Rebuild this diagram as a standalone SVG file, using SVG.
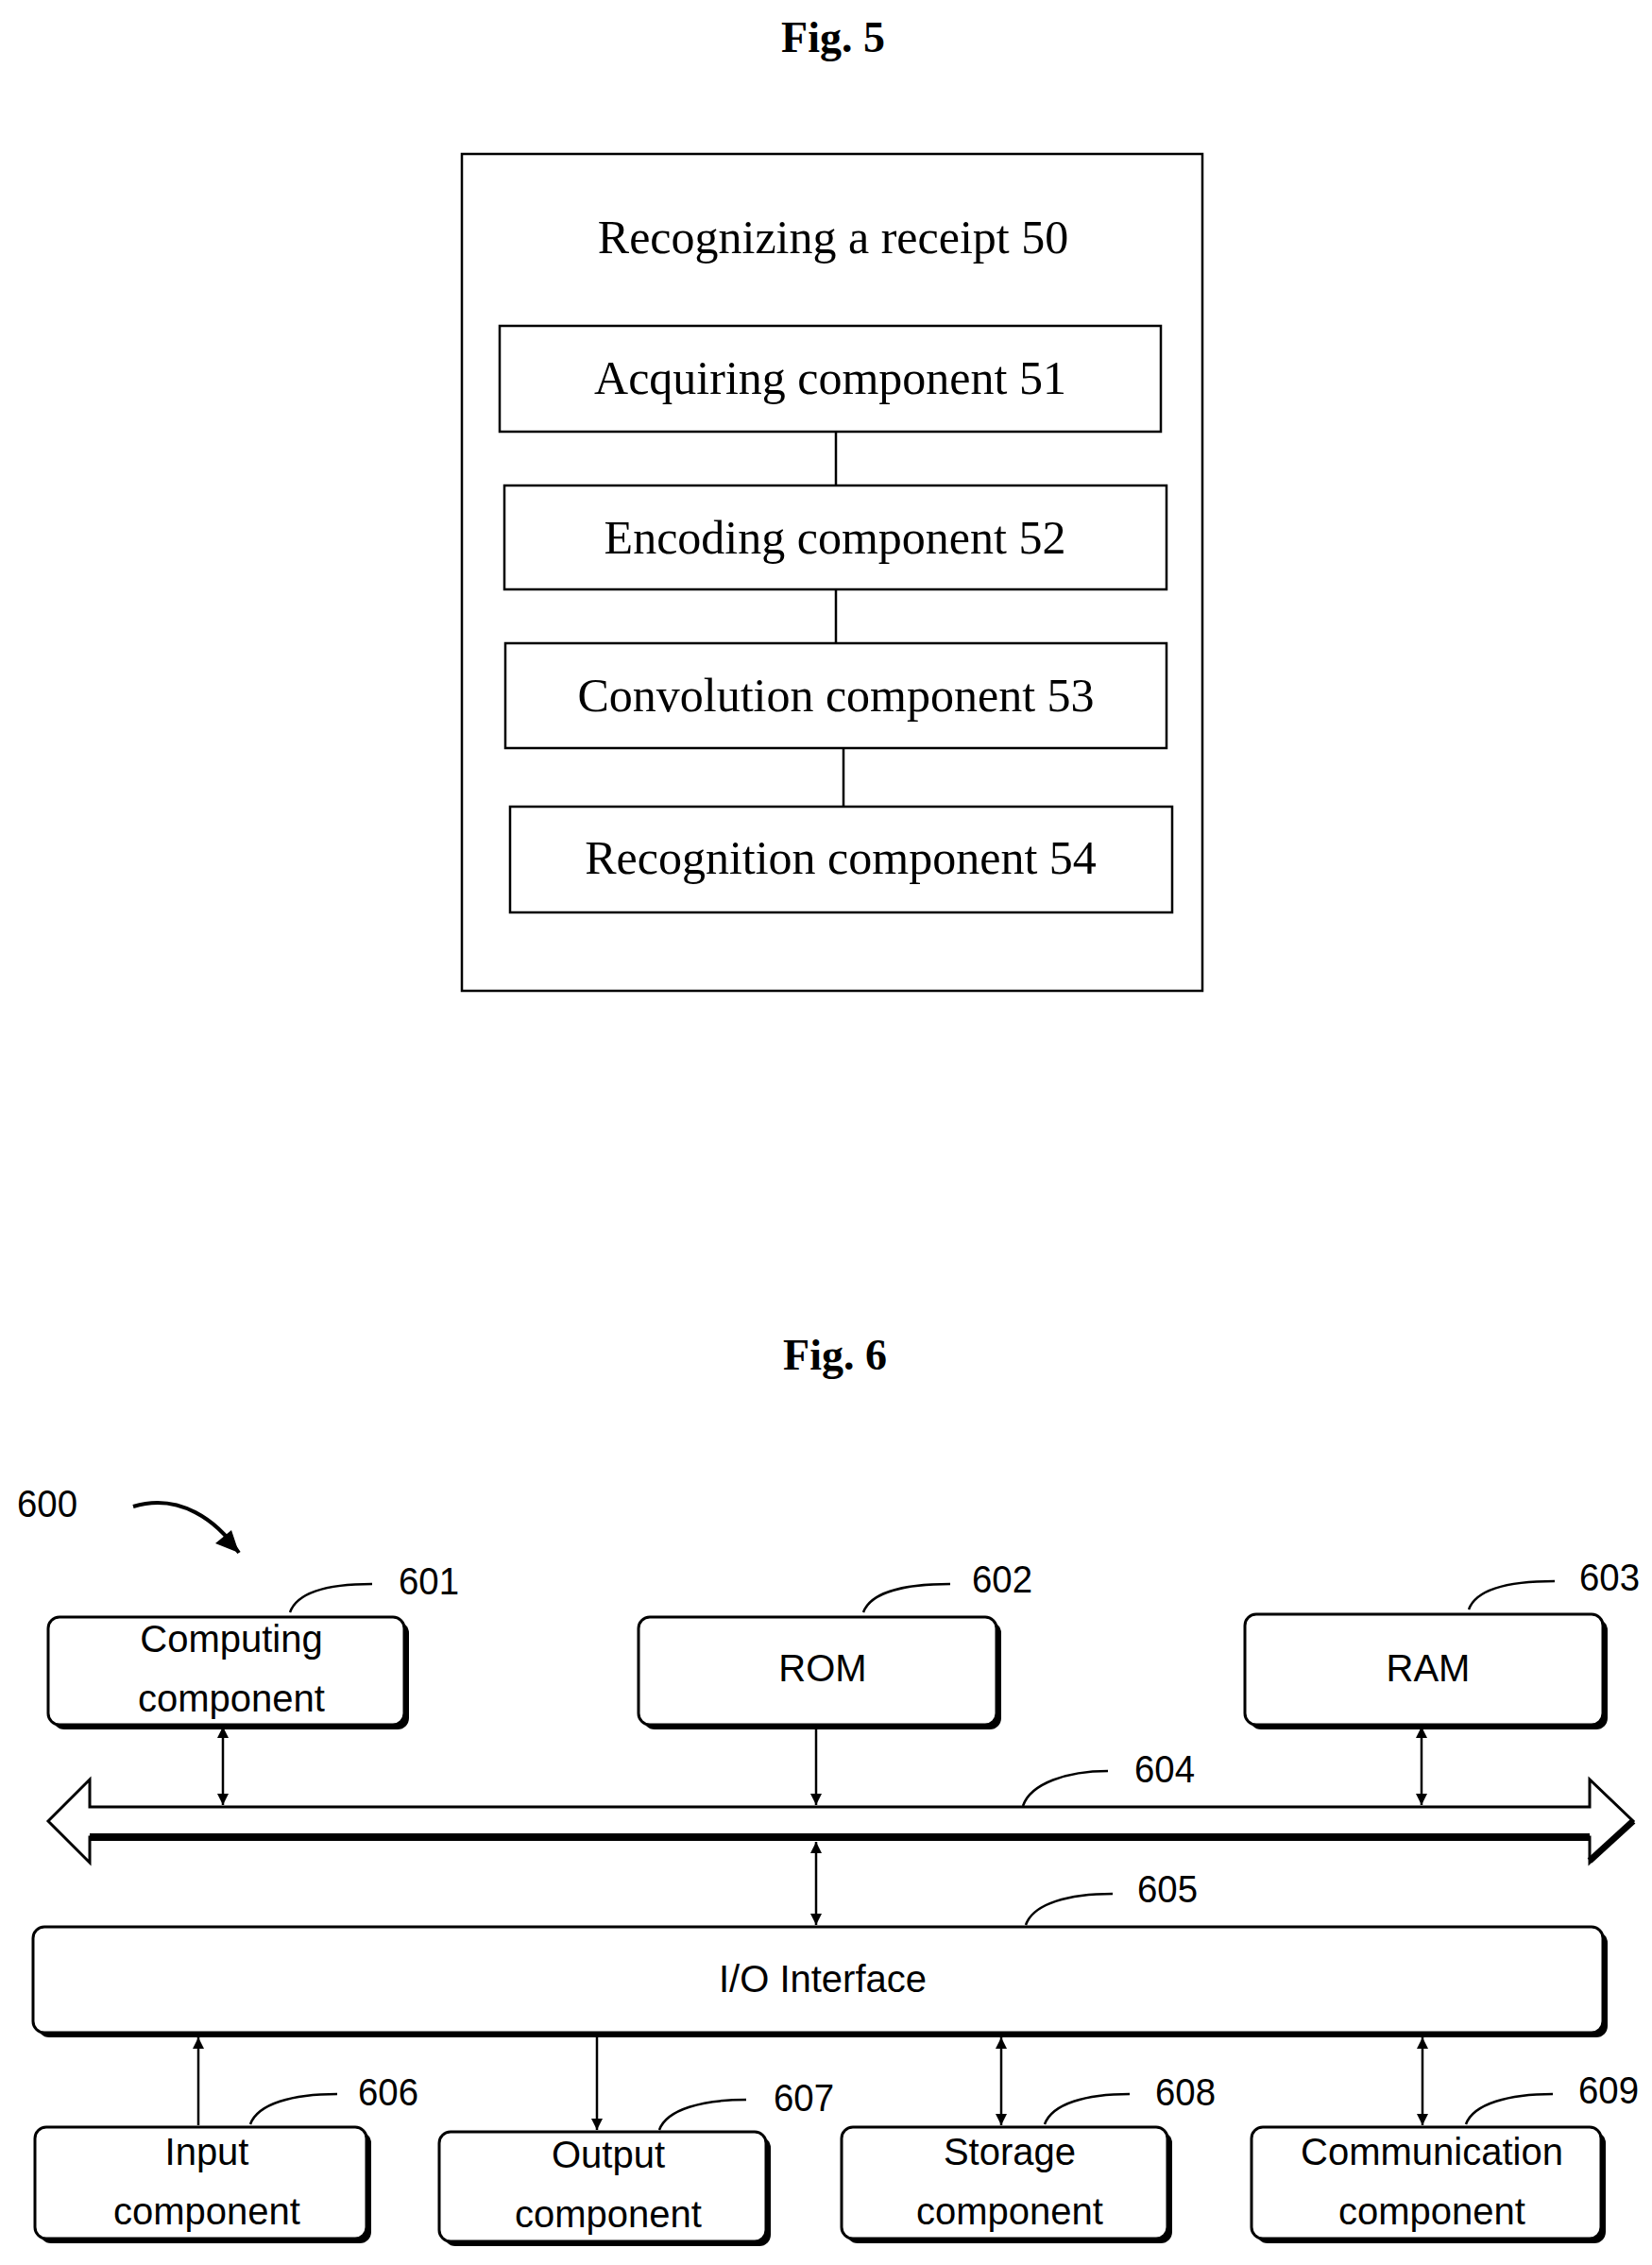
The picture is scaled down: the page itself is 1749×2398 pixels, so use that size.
<svg xmlns="http://www.w3.org/2000/svg" width="1749" height="2398" viewBox="0 0 1749 2398">
<defs>
<style>
.serif{font-family:"Liberation Serif","Times New Roman",serif;fill:#000}
.sans{font-family:"Liberation Sans",Arial,sans-serif;fill:#000;font-size:40px}
.box{fill:#fff;stroke:#000;stroke-width:2.5}
.rb{fill:#fff;stroke:#000;stroke-width:3}
.sh{fill:#000}
.ln{fill:none;stroke:#000;stroke-width:2.5}
.lead{fill:none;stroke:#000;stroke-width:2.5}
</style>
<marker id="ah" viewBox="0 0 10 10" refX="10" refY="5" markerWidth="12" markerHeight="12" markerUnits="userSpaceOnUse" orient="auto-start-reverse"><path d="M0,0 L10,5 L0,10 z" fill="#000"/></marker>
</defs>
<rect width="1749" height="2398" fill="#fff"/>

<text class="serif" x="882" y="55" font-size="46" font-weight="bold" text-anchor="middle">Fig. 5</text>
<g id="fig5-container"><rect class="box" x="489" y="163" width="784" height="886" stroke-width="2"/>
<text class="serif" x="882" y="268" font-size="50" text-anchor="middle">Recognizing a receipt 50</text></g>
<g id="n51"><rect class="box" x="529" y="345" width="700" height="112"/><text class="serif" x="879" y="417" font-size="50" text-anchor="middle">Acquiring component 51</text></g>
<g id="n52"><rect class="box" x="534" y="514" width="701" height="110"/><text class="serif" x="884" y="586" font-size="50" text-anchor="middle">Encoding component 52</text></g>
<g id="n53"><rect class="box" x="535" y="681" width="700" height="111"/><text class="serif" x="885" y="753" font-size="50" text-anchor="middle">Convolution component 53</text></g>
<g id="n54"><rect class="box" x="540" y="854" width="701" height="112"/><text class="serif" x="890" y="925" font-size="50" text-anchor="middle">Recognition component 54</text></g>
<g id="fig5-connectors">
<line class="ln" x1="885" y1="457" x2="885" y2="514"/>
<line class="ln" x1="885" y1="624" x2="885" y2="681"/>
<line class="ln" x1="893" y1="792" x2="893" y2="854"/>
</g>

<text class="serif" x="884" y="1450" font-size="46" font-weight="bold" text-anchor="middle">Fig. 6</text>
<text class="sans" x="18" y="1606" font-size="44" textLength="64" lengthAdjust="spacingAndGlyphs">600</text>

<g id="n601"><rect class="sh" x="56" y="1717" width="377" height="114" rx="12"/><rect class="rb" x="51" y="1712" width="377" height="114" rx="12"/>
<text class="sans" x="245" y="1749" text-anchor="middle">Computing</text><text class="sans" x="245" y="1812" text-anchor="middle">component</text></g>
<g id="n602"><rect class="sh" x="681" y="1717" width="379" height="114" rx="12"/><rect class="rb" x="676" y="1712" width="379" height="114" rx="12"/>
<text class="sans" x="871" y="1780" text-anchor="middle">ROM</text></g>
<g id="n603"><rect class="sh" x="1323" y="1714" width="379" height="117" rx="12"/><rect class="rb" x="1318" y="1709" width="379" height="117" rx="12"/>
<text class="sans" x="1512" y="1780" text-anchor="middle">RAM</text></g>
<g id="n604"><path d="M51,1928 L95,1884 L95,1913 L1683,1913 L1683,1884 L1729,1928 L1683,1972 L1683,1945 L95,1945 L95,1972 Z" fill="#fff" stroke="#000" stroke-width="3"/>
<line x1="95" y1="1945" x2="1683" y2="1945" stroke="#000" stroke-width="8"/>
<line x1="1683" y1="1970" x2="1729" y2="1928" stroke="#000" stroke-width="7"/></g>
<g id="n605"><rect class="sh" x="40" y="2045" width="1662" height="112" rx="12"/><rect class="rb" x="35" y="2040" width="1662" height="112" rx="12"/>
<text class="sans" x="871" y="2109" text-anchor="middle">I/O Interface</text></g>
<g id="n606"><rect class="sh" x="42" y="2257" width="351" height="118" rx="12"/><rect class="rb" x="37" y="2252" width="351" height="118" rx="12"/>
<text class="sans" x="219" y="2292" text-anchor="middle">Input</text><text class="sans" x="219" y="2355" text-anchor="middle">component</text></g>
<g id="n607"><rect class="sh" x="470" y="2262" width="346" height="116" rx="12"/><rect class="rb" x="465" y="2257" width="346" height="116" rx="12"/>
<text class="sans" x="644" y="2295" text-anchor="middle">Output</text><text class="sans" x="644" y="2358" text-anchor="middle">component</text></g>
<g id="n608"><rect class="sh" x="896" y="2257" width="345" height="118" rx="12"/><rect class="rb" x="891" y="2252" width="345" height="118" rx="12"/>
<text class="sans" x="1069" y="2292" text-anchor="middle">Storage</text><text class="sans" x="1069" y="2355" text-anchor="middle">component</text></g>
<g id="n609"><rect class="sh" x="1330" y="2257" width="370" height="118" rx="12"/><rect class="rb" x="1325" y="2252" width="370" height="118" rx="12"/>
<text class="sans" x="1516" y="2292" text-anchor="middle">Communication</text><text class="sans" x="1516" y="2355" text-anchor="middle">component</text></g>

<g id="labels" class="sans">
<text class="sans" x="422" y="1688" textLength="64" lengthAdjust="spacingAndGlyphs">601</text>
<text class="sans" x="1029" y="1686" textLength="64" lengthAdjust="spacingAndGlyphs">602</text>
<text class="sans" x="1672" y="1684" textLength="64" lengthAdjust="spacingAndGlyphs">603</text>
<text class="sans" x="1201" y="1887" textLength="64" lengthAdjust="spacingAndGlyphs">604</text>
<text class="sans" x="1204" y="2014" textLength="64" lengthAdjust="spacingAndGlyphs">605</text>
<text class="sans" x="379" y="2229" textLength="64" lengthAdjust="spacingAndGlyphs">606</text>
<text class="sans" x="819" y="2235" textLength="64" lengthAdjust="spacingAndGlyphs">607</text>
<text class="sans" x="1223" y="2229" textLength="64" lengthAdjust="spacingAndGlyphs">608</text>
<text class="sans" x="1671" y="2227" textLength="64" lengthAdjust="spacingAndGlyphs">609</text>
</g>

<g id="connectors">
<path d="M141,1595 C190,1580 230,1610 253,1644" fill="none" stroke="#000" stroke-width="4"/>
<path d="M253,1644 L228,1634 L245,1620 Z" fill="#000"/>
<path class="lead" d="M307,1707 C315,1685 350,1677 394,1677"/>
<path class="lead" d="M914,1707 C922,1685 960,1677 1006,1677"/>
<path class="lead" d="M1555,1704 C1563,1682 1600,1674 1646,1674"/>
<path class="lead" d="M1083,1912 C1091,1888 1130,1875 1173,1875"/>
<path class="lead" d="M1086,2038 C1094,2015 1132,2005 1178,2005"/>
<path class="lead" d="M265,2249 C273,2227 310,2217 357,2217"/>
<path class="lead" d="M698,2255 C706,2233 744,2223 790,2223"/>
<path class="lead" d="M1106,2249 C1114,2227 1150,2217 1196,2217"/>
<path class="lead" d="M1552,2249 C1560,2227 1598,2217 1644,2217"/>
<line class="ln" x1="236" y1="1828" x2="236" y2="1911" marker-start="url(#ah)" marker-end="url(#ah)"/>
<line class="ln" x1="864" y1="1828" x2="864" y2="1911" marker-end="url(#ah)"/>
<line class="ln" x1="1505" y1="1828" x2="1505" y2="1911" marker-start="url(#ah)" marker-end="url(#ah)"/>
<line class="ln" x1="864" y1="1950" x2="864" y2="2038" marker-start="url(#ah)" marker-end="url(#ah)"/>
<line class="ln" x1="210" y1="2250" x2="210" y2="2157" marker-end="url(#ah)"/>
<line class="ln" x1="632" y1="2157" x2="632" y2="2255" marker-end="url(#ah)"/>
<line class="ln" x1="1060" y1="2157" x2="1060" y2="2250" marker-start="url(#ah)" marker-end="url(#ah)"/>
<line class="ln" x1="1506" y1="2157" x2="1506" y2="2250" marker-start="url(#ah)" marker-end="url(#ah)"/>
</g>
</svg>
